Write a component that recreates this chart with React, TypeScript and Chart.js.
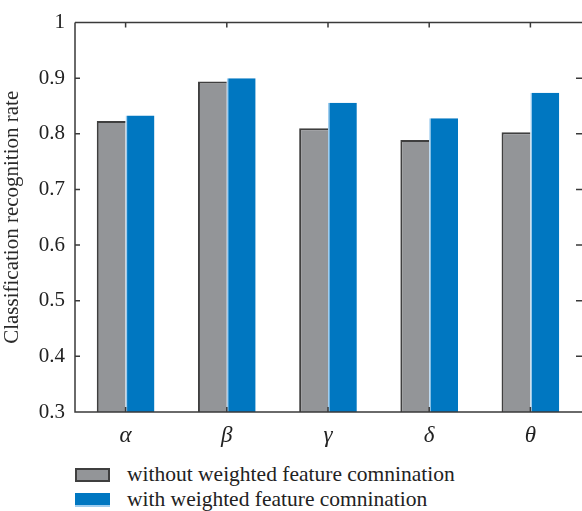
import React, { useEffect, useRef } from "react";
import { Chart, registerables } from "chart.js";

Chart.register(...registerables);

const categories = ["α", "β", "γ", "δ", "θ"];
const withoutWeighted = [0.823, 0.894, 0.81, 0.789, 0.803];
const withWeighted = [0.833, 0.9, 0.856, 0.828, 0.874];
const seriesNames = [
  "without weighted feature comnination",
  "with weighted feature comnination",
];
const yMin = 0.3;
const yMax = 1;
const yStep = 0.1;

const GRAY = "#939598";
const GRAY_EDGE = "#3f3f3f";
const BLUE = "#0077c1";
const BLUE_EDGE = "#9fcdef";
const AXIS = "#3a3a3a";
const SERIF = "'Liberation Serif', 'DejaVu Serif', serif";

const axisPlugin = {
  id: "matlabAxes",
  afterDatasetsDraw(chart: any) {
    const { ctx, chartArea, scales } = chart;
    const { left, right, top, bottom } = chartArea;
    const tl = 5;
    ctx.save();
    ctx.strokeStyle = AXIS;
    ctx.lineWidth = 1.5;
    ctx.beginPath();
    ctx.moveTo(left, top);
    ctx.lineTo(right + 2, top);
    ctx.moveTo(left, top);
    ctx.lineTo(left, bottom);
    ctx.lineTo(right + 2, bottom);
    const ys = scales.y;
    ys.ticks.forEach((_t: any, i: number) => {
      const py = ys.getPixelForTick(i);
      ctx.moveTo(left, py);
      ctx.lineTo(left + tl, py);
      ctx.moveTo(right + 2, py);
      ctx.lineTo(right - tl, py);
    });
    const xs = scales.x;
    xs.ticks.forEach((_t: any, i: number) => {
      const px = xs.getPixelForTick(i);
      ctx.moveTo(px, bottom);
      ctx.lineTo(px, bottom - tl);
      ctx.moveTo(px, top);
      ctx.lineTo(px, top + tl);
    });
    ctx.stroke();
    ctx.restore();
  },
};

export default function App() {
  const ref = useRef<HTMLCanvasElement | null>(null);
  useEffect(() => {
    document.body.style.margin = "0";
    const canvas = ref.current;
    if (!canvas) return;
    const chart = new Chart(canvas, {
      type: "bar",
      data: {
        labels: categories,
        datasets: [
          {
            label: seriesNames[0],
            data: withoutWeighted,
            backgroundColor: GRAY,
            borderColor: GRAY_EDGE,
            borderWidth: { top: 2, left: 2, right: 0, bottom: 0 },
            borderSkipped: false,
            categoryPercentage: 0.57,
            barPercentage: 1.0,
          },
          {
            label: seriesNames[1],
            data: withWeighted,
            backgroundColor: BLUE,
            borderColor: BLUE_EDGE,
            borderWidth: { top: 0, left: 1.5, right: 0, bottom: 0 },
            borderSkipped: false,
            categoryPercentage: 0.57,
            barPercentage: 1.0,
          },
        ],
      },
      options: {
        responsive: false,
        animation: false,
        maintainAspectRatio: false,
        layout: { padding: { top: 12, right: 1, left: 0, bottom: 0 } },
        plugins: {
          legend: { display: false },
          tooltip: { enabled: false },
        },
        scales: {
          x: {
            offset: true,
            grid: { display: false, drawTicks: false },
            border: { display: false },
            ticks: {
              padding: 10,
              color: "#222",
              font: { family: SERIF, size: 23, style: "italic" },
            },
            afterFit: (s: any) => {
              s.height = 48;
            },
          },
          y: {
            min: yMin,
            max: yMax,
            grid: { display: false, drawTicks: false },
            border: { display: false },
            ticks: {
              stepSize: yStep,
              padding: 10,
              color: "#222",
              font: { family: SERIF, size: 21 },
              callback: (v: any) => {
                const n = Number(v);
                return Math.abs(n - 1) < 1e-9 ? "1" : n.toFixed(1);
              },
            },
            title: {
              display: true,
              text: "Classification recognition rate",
              color: "#2a2a2a",
              font: { family: SERIF, size: 21 },
              padding: { top: 0, bottom: 2 },
            },
            afterFit: (s: any) => {
              s.width = 75;
            },
          },
        },
      },
      plugins: [axisPlugin],
    });
    return () => chart.destroy();
  }, []);

  const legendRow = (color: string, edge: string, dark: boolean, text: string) => (
    <div style={{ display: "flex", alignItems: "center", height: 25 }}>
      <div
        style={{
          width: 35,
          height: 14,
          boxSizing: "border-box",
          background: color,
          border: dark ? `2px solid ${edge}` : "none",
          borderBottom: `2px solid ${edge}`,
          marginRight: 17,
        }}
      />
      <span style={{ fontFamily: SERIF, fontSize: 21.5, color: "#222" }}>{text}</span>
    </div>
  );

  return (
    <div style={{ position: "relative", width: 582, height: 511 }}>
      <canvas ref={ref} width={582} height={460} style={{ display: "block" }} />
      <div style={{ position: "absolute", left: 75, top: 462 }}>
        {legendRow(GRAY, GRAY_EDGE, true, seriesNames[0])}
        {legendRow(BLUE, BLUE_EDGE, false, seriesNames[1])}
      </div>
    </div>
  );
}
